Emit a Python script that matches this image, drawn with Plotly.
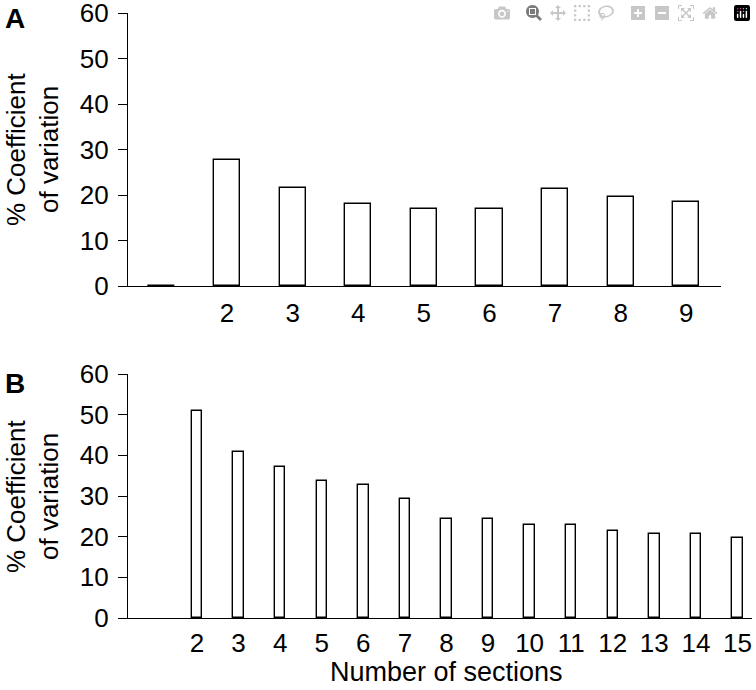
import plotly.graph_objects as go

# Panel A data
a_x = [1, 2, 3, 4, 5, 6, 7, 8, 9]
a_labels = ["", "2", "3", "4", "5", "6", "7", "8", "9"]
a_cv = [0, 27.7, 21.5, 18.1, 16.9, 16.9, 21.3, 19.6, 18.4]

# Panel B data
b_x = [1, 2, 3, 4, 5, 6, 7, 8, 9, 10, 11, 12, 13, 14, 15]
b_labels = ["", "2", "3", "4", "5", "6", "7", "8", "9", "10", "11", "12", "13", "14", "15"]
b_cv = [None, 51.0, 40.7, 37.2, 33.8, 32.7, 29.3, 24.4, 24.4, 22.8, 22.8, 21.5, 20.6, 20.6, 19.7]

y_ticks = [0, 10, 20, 30, 40, 50, 60]

W, H = 756, 690
FONT = "Liberation Sans, Arial, Helvetica, sans-serif"
LW = 1.4
FS = 26

def px_x(v):
    return v / W

def px_y(v):
    return 1 - v / H

fig = go.Figure()
fig.add_trace(go.Bar(x=a_x, y=a_cv, width=0.40, xaxis="x", yaxis="y",
                     marker=dict(color="white", line=dict(color="black", width=LW)),
                     showlegend=False, hoverinfo="x+y"))
fig.add_trace(go.Bar(x=b_x, y=b_cv, width=0.25, xaxis="x2", yaxis="y2",
                     marker=dict(color="white", line=dict(color="black", width=LW)),
                     showlegend=False, hoverinfo="x+y"))

tickfont = dict(family=FONT, size=FS, color="black")

common_x = dict(showline=True, linecolor="black", linewidth=LW, ticks="",
                showgrid=False, zeroline=False, tickfont=tickfont, automargin=False,
                ticklabeloverflow="allow")
common_y = dict(showline=True, linecolor="black", linewidth=LW, ticks="outside",
                ticklen=9, tickwidth=LW, tickcolor="black", showgrid=False,
                zeroline=False, tickfont=tickfont, range=[0, 60],
                tickvals=y_ticks, ticklabelstandoff=4,
                automargin=False, ticklabeloverflow="allow")

fig.update_layout(
    width=W, height=H,
    margin=dict(l=0, r=0, t=0, b=0, autoexpand=False),
    paper_bgcolor="white", plot_bgcolor="white",
    bargap=0,
    xaxis=dict(domain=[px_x(128), px_x(721)], range=[0.49, 9.53],
               tickvals=a_x, ticktext=a_labels, anchor="y",
               ticklabelstandoff=4, **common_x),
    yaxis=dict(domain=[px_y(286), px_y(13)], anchor="x", **common_y),
    xaxis2=dict(domain=[px_x(128), px_x(752)], range=[0.34, 15.35],
                tickvals=b_x, ticktext=b_labels, anchor="y2",
                ticklabelstandoff=2, **common_x),
    yaxis2=dict(domain=[px_y(618), px_y(374)], anchor="x2", **common_y),
)

shapes = []
for xr, yr, ext in (("x domain", "y", 10), ("x2 domain", "y2", 8)):
    for xd in (0, 1):
        shapes.append(dict(type="line", xref=xr, yref=yr, x0=xd, x1=xd,
                           ysizemode="pixel", yanchor=0, y0=0, y1=-ext,
                           line=dict(color="black", width=LW)))
fig.update_layout(shapes=shapes)

ann = []
for label, yc in (("A", 19), ("B", 383)):
    ann.append(dict(text="<b>%s</b>" % label, x=px_x(3), y=px_y(yc), xref="paper", yref="paper",
                    xanchor="left", yanchor="middle", showarrow=False,
                    font=dict(family=FONT, size=28, color="black")))
for yc in (150, 497):
    ann.append(dict(text="% Coefficient", x=px_x(16), y=px_y(yc), xref="paper", yref="paper",
                    xanchor="center", yanchor="middle", textangle=-90, showarrow=False,
                    font=dict(family=FONT, size=FS, color="black")))
    ann.append(dict(text="of variation", x=px_x(49), y=px_y(yc), xref="paper", yref="paper",
                    xanchor="center", yanchor="middle", textangle=-90, showarrow=False,
                    font=dict(family=FONT, size=FS, color="black")))
ann.append(dict(text="Number of sections", x=px_x(446), y=px_y(672), xref="paper", yref="paper",
                xanchor="center", yanchor="middle", showarrow=False,
                font=dict(family=FONT, size=27, color="black")))
fig.update_layout(annotations=ann)

# remove the browser's default 8px body margin so the figure starts at the window corner
fig.write_html("out.html",
               post_script="document.body.style.margin='0px'; document.body.style.overflow='hidden';")
